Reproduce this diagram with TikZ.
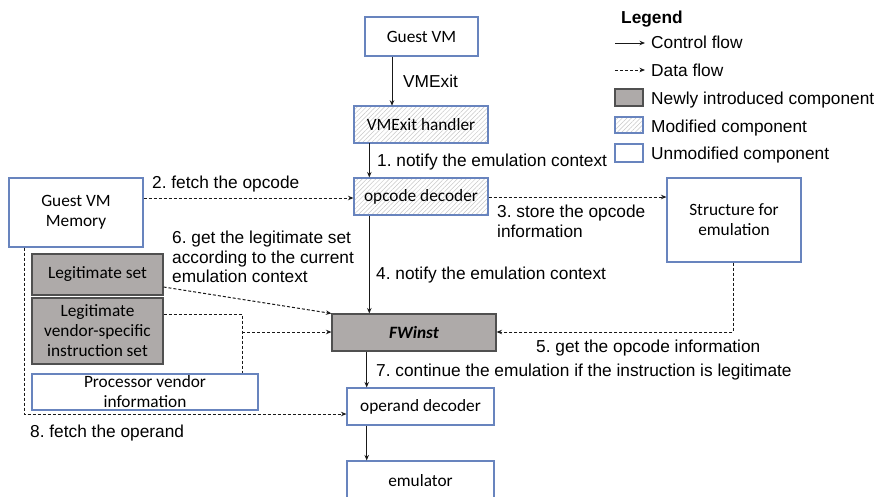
\documentclass[tikz,border=0pt]{standalone}
\usepackage{fontspec}
\setmainfont{Liberation Sans}
\newfontfamily\boxfont{Carlito}
\usetikzlibrary{arrows.meta,patterns.meta}
\definecolor{bblue}{RGB}{104,132,190}
\definecolor{newfill}{RGB}{174,170,169}
\definecolor{newdraw}{RGB}{80,80,80}
\definecolor{lnk}{RGB}{25,25,25}
\definecolor{hatch}{RGB}{200,200,200}
\frenchspacing
\begin{document}
\begin{tikzpicture}[x=1pt,y=-1pt,
  box/.style={draw=bblue, line width=1.1pt, fill=white, inner sep=0pt, align=center,
    font=\boxfont\fontsize{17.3}{20}\selectfont},
  newbox/.style={box, draw=newdraw, fill=newfill},
  modbox/.style={box, preaction={fill=white}, fill=none,
    pattern={Lines[angle=45,distance=3.2pt,line width=0.5pt]}, pattern color=hatch},
  lbl/.style={inner sep=0pt, font=\fontsize{17.3}{19.8}\selectfont},
  ctrl/.style={draw=lnk, line width=1pt, -{Stealth[length=5.5pt,width=4.5pt]}},
  data/.style={draw=lnk, line width=1pt, dash pattern=on 3pt off 2pt, -{Stealth[length=5.5pt,width=4.5pt]}},
  dline/.style={draw=lnk, line width=1pt, dash pattern=on 3pt off 2pt},
]
\useasboundingbox (0,0) rectangle (881,496);
\begin{scope}
\clip (0,0) rectangle (881,496);
% boxes
\node[box, minimum width=113pt, minimum height=39pt] (gvm) at (421.5,36.5) {Guest VM};
\node[modbox, minimum width=134pt, minimum height=37pt] (vmh) at (421,124.5) {VMExit handler};
\node[modbox, minimum width=134pt, minimum height=37pt] (opd) at (421,196.5) {opcode decoder};
\node[box, minimum width=134pt, minimum height=69pt] (mem) at (76,212.5) {Guest VM\\Memory};
\node[box, minimum width=134pt, minimum height=84pt] (st) at (734,220) {Structure for\\emulation};
\node[newbox, minimum width=131pt, minimum height=41pt] (ls) at (97.5,274.5) {Legitimate set};
\node[newbox, minimum width=131pt, minimum height=66pt] (lv) at (97.5,331) {Legitimate\\vendor-specific\\instruction set};
\node[box, minimum width=226pt, minimum height=36pt] (pv) at (145,392) {Processor vendor\\information};
\node[newbox, minimum width=164pt, minimum height=37pt] (fw) at (414,332.5) {\bfseries\itshape FWinst};
\node[box, minimum width=147pt, minimum height=37pt] (od) at (420.5,406.5) {operand decoder};
\node[box, minimum width=147pt, minimum height=39pt] (emu) at (420.5,480.5) {emulator};
\end{scope}
% helper coordinates
\coordinate (xa) at (392,0);
\coordinate (xb) at (369.3,0);
\coordinate (xc) at (366.7,0);
\coordinate (xv) at (242,0);
\coordinate (xs) at (733,0);
\coordinate (xm) at (24,0);
\coordinate (y2) at (0,198);
\coordinate (y3) at (0,197);
\coordinate (y6) at (0,287);
\coordinate (yv) at (0,314);
\coordinate (yw) at (0,332);
\coordinate (y8) at (0,414);
% control flow
\draw[ctrl] (gvm.south -| xa) -- (vmh.north -| xa);
\draw[ctrl] (vmh.south -| xb) -- (opd.north -| xb);
\draw[ctrl] (opd.south -| xb) -- (fw.north -| xb);
\draw[ctrl] (fw.south -| xc) -- (od.north -| xc);
\draw[ctrl] (od.south -| xc) -- (emu.north -| xc);
% data flow
\draw[data] (mem.east |- y2) -- (opd.west |- y2);
\draw[data] (opd.east |- y3) -- (st.west |- y3);
\draw[data] (st.south -| xs) |- (fw.east |- yw);
\draw[data] (ls.east |- y6) -- (fw.north west);
\draw[dline] (lv.east |- yv) -| (pv.north -| xv);
\draw[data] (xv |- yw) -- (fw.west |- yw);
\draw[data] (mem.south -| xm) |- (od.west |- y8);
% labels
\node[lbl, anchor=base west] (l0) at (403,87) {VMExit};
\node[lbl, anchor=base west] (l1) at (377,166.5) {1. notify the emulation context};
\node[lbl, anchor=base west] (l2) at (152,188) {2. fetch the opcode};
\node[lbl, anchor=north west, align=left, font=\fontsize{17.3}{20}\selectfont] (l3) at (497,204.6) {3. store the opcode\\information};
\node[lbl, anchor=base west] (l4) at (376,279) {4. notify the emulation context};
\node[lbl, anchor=base west] (l5) at (536,352) {5. get the opcode information};
\node[lbl, anchor=north west, align=left] (l6) at (172,230.6) {6. get the legitimate set\\according to the current\\emulation context};
\node[lbl, anchor=base west] (l7) at (376,376) {7. continue the emulation if the instruction is legitimate};
\node[lbl, anchor=base west] (l8) at (30,437) {8. fetch the operand};
% legend
\node[lbl, anchor=base west, font=\bfseries\fontsize{17.3}{19.8}\selectfont] (lg) at (621,23) {Legend};
\coordinate (lca) at (615,43);
\coordinate (lcb) at (645,43);
\coordinate (lda) at (615,70);
\coordinate (ldb) at (645,70);
\draw[ctrl] (lca) -- (lcb);
\draw[data] (lda) -- (ldb);
\node[lbl, anchor=base west] (lgc) at (651,48) {Control flow};
\node[lbl, anchor=base west] (lgd) at (651,76) {Data flow};
\node[newbox, minimum width=28pt, minimum height=17pt] (lbn) at (629,97.5) {};
\node[modbox, minimum width=28pt, minimum height=16pt] (lbm) at (629,125) {};
\node[box, minimum width=28pt, minimum height=18pt] (lbu) at (629,153) {};
\node[lbl, anchor=base west] (lgn) at (651,104) {Newly introduced component};
\node[lbl, anchor=base west] (lgm) at (651,132) {Modified component};
\node[lbl, anchor=base west] (lgu) at (651,159) {Unmodified component};
\end{tikzpicture}
\end{document}
